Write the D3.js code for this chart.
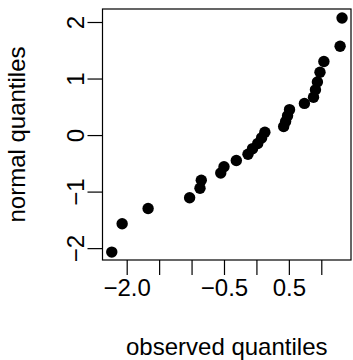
<!DOCTYPE html>
<html>
<head>
<meta charset="utf-8">
<script src="https://cdn.jsdelivr.net/npm/d3@7"></script>
<style>
  html, body { margin: 0; padding: 0; background: #fff; }
  svg { display: block; }
  text { font-family: "Liberation Sans", Arial, sans-serif; fill: #000; }
</style>
</head>
<body>
<div id="chart"></div>
<script>
// observed quantiles (x) and normal quantiles (y)
const observed = [-2.23, -2.07, -1.67, -1.03, -0.87, -0.85, -0.55, -0.50, -0.31, -0.13,
                  -0.06, 0.02, 0.08, 0.13, 0.42, 0.45, 0.48, 0.51, 0.74, 0.88,
                  0.91, 0.94, 0.98, 1.04, 1.29, 1.32];
const normal = [-2.07, -1.57, -1.30, -1.11, -0.94, -0.80, -0.67, -0.56, -0.45, -0.34,
                -0.24, -0.15, -0.05, 0.05, 0.15, 0.24, 0.34, 0.45, 0.56, 0.67,
                0.80, 0.94, 1.11, 1.30, 1.57, 2.07];
const xTickValues = [-2, -1.5, -1, -0.5, 0, 0.5, 1];
const xTickLabels = ["−2.0", "", "", "−0.5", "", "0.5", ""];
const yTickValues = [-2, -1, 0, 1, 2];
const yTickLabels = ["−2", "−1", "0", "1", "2"];
const xTitle = "observed quantiles";
const yTitle = "normal quantiles";

const W = 353, H = 360;
const mLeft = 102.5, mRight = 351, mTop = 9, mBottom = 260;
const fontSize = 24;

const svg = d3.select("#chart").append("svg").attr("width", W).attr("height", H);

const x = d3.scaleLinear().domain([-2.373, 1.458]).range([mLeft, mRight]);
const y = d3.scaleLinear().domain([-2.21, 2.23]).range([mBottom, mTop]);

// points
const pts = observed.map((v, i) => ({x: v, y: normal[i]}));
svg.append("g").selectAll("circle").data(pts).join("circle")
  .attr("cx", d => x(d.x)).attr("cy", d => y(d.y))
  .attr("r", 5.7).attr("fill", "#000");

// box
svg.append("rect")
  .attr("x", mLeft).attr("y", mTop)
  .attr("width", mRight - mLeft).attr("height", mBottom - mTop)
  .attr("fill", "none").attr("stroke", "#000").attr("stroke-width", 1.2);

// x axis
const xAxis = d3.axisBottom(x).tickValues(xTickValues)
  .tickFormat((d, i) => xTickLabels[i]).tickSize(15).tickPadding(4).tickSizeOuter(0);
const gx = svg.append("g").attr("transform", `translate(0,${mBottom})`).call(xAxis);
gx.select(".domain").remove();
gx.selectAll(".tick line").attr("stroke", "#000").attr("stroke-width", 1.2);
gx.selectAll(".tick text").attr("font-size", fontSize)
  .attr("font-family", "Liberation Sans, Arial, sans-serif").attr("fill", "#000");

// y axis
const yAxis = d3.axisLeft(y).tickValues(yTickValues)
  .tickFormat((d, i) => yTickLabels[i]).tickSize(15).tickSizeOuter(0);
const gy = svg.append("g").attr("transform", `translate(${mLeft},0)`).call(yAxis);
gy.select(".domain").remove();
gy.selectAll(".tick line").attr("stroke", "#000").attr("stroke-width", 1.2);
gy.selectAll(".tick text")
  .attr("font-size", fontSize)
  .attr("font-family", "Liberation Sans, Arial, sans-serif").attr("fill", "#000")
  .attr("x", null).attr("dy", null)
  .attr("text-anchor", "middle")
  .attr("transform", "translate(-19,0) rotate(-90)");

// titles
svg.append("text").attr("x", (mLeft + mRight) / 2).attr("y", 355)
  .attr("text-anchor", "middle").attr("font-size", fontSize).text(xTitle);
svg.append("text")
  .attr("transform", `translate(25,${(mTop + mBottom) / 2}) rotate(-90)`)
  .attr("text-anchor", "middle").attr("font-size", fontSize).text(yTitle);
</script>
</body>
</html>
